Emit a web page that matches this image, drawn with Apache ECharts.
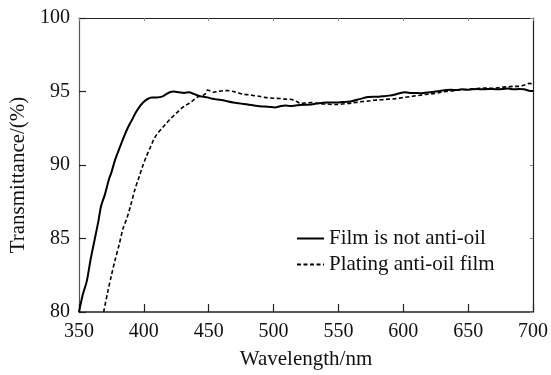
<!DOCTYPE html>
<html>
<head>
<meta charset="utf-8">
<script src="https://cdn.jsdelivr.net/npm/echarts@6/dist/echarts.min.js"></script>
<style>html,body{margin:0;padding:0;background:#fff}#c{width:551px;height:375px}</style>
</head>
<body>
<div id="c"></div>
<script>
var seriesNames = ['Film is not anti-oil', 'Plating anti-oil film'];
var xTicks = [350, 400, 450, 500, 550, 600, 650, 700];
var yTicks = [80, 85, 90, 95, 100];

var solidWavelength = [350,353,356,359,362,365,367,370,373,375,378,381,385,388,391,394,397,400,403,406,410,414,417,420,423,427,431,435,438,441,445,449,453,457,461,465,469,473,477,481,485,489,493,497,501,505,509,513,517,521,525,529,533,537,541,545,549,553,557,561,565,569,573,577,581,585,589,593,597,601,605,609,613,617,621,625,629,633,637,641,645,649,653,657,661,665,669,673,677,681,685,689,693,697,700];
var solidTransmittance = [80.0,81.2,82.1,83.6,84.9,86.2,87.2,88.0,89.0,89.5,90.4,91.1,92.0,92.6,93.1,93.6,94.0,94.3,94.5,94.6,94.6,94.65,94.8,94.95,95.0,94.95,94.9,94.95,94.85,94.75,94.65,94.6,94.5,94.45,94.4,94.32,94.25,94.2,94.15,94.1,94.05,94.0,93.98,93.95,93.92,94.0,94.05,94.02,94.05,94.08,94.1,94.12,94.18,94.22,94.25,94.25,94.25,94.28,94.3,94.35,94.45,94.55,94.63,94.65,94.65,94.68,94.72,94.78,94.88,94.95,94.9,94.9,94.88,94.92,94.95,95.0,95.05,95.1,95.12,95.1,95.15,95.12,95.15,95.17,95.15,95.17,95.17,95.15,95.17,95.2,95.15,95.17,95.15,95.05,95.03];

var dashedWavelength = [369,372,375,378,381,384,387,390,393,396,399,402,405,408,411,414,417,420,423,426,429,432,435,438,441,444,447,449,451,454,457,461,465,469,473,477,481,485,489,493,497,501,505,509,513,517,521,525,529,533,537,541,545,549,553,557,561,565,569,573,577,581,585,589,593,597,601,605,609,613,617,621,625,629,633,637,641,645,649,653,657,661,665,669,673,677,681,685,689,693,697,700];
var dashedTransmittance = [80.0,81.3,82.5,83.6,84.6,85.7,86.4,87.3,88.3,89.1,89.9,90.6,91.2,91.8,92.2,92.5,92.8,93.1,93.35,93.6,93.85,94.05,94.2,94.4,94.6,94.7,94.8,95.1,95.05,94.95,95.0,95.05,95.06,95.0,94.9,94.8,94.78,94.72,94.68,94.6,94.56,94.54,94.52,94.48,94.47,94.35,94.2,94.22,94.25,94.2,94.15,94.15,94.12,94.12,94.15,94.18,94.22,94.28,94.32,94.35,94.4,94.42,94.45,94.48,94.5,94.55,94.6,94.65,94.7,94.75,94.8,94.83,94.88,94.95,95.0,95.03,95.08,95.12,95.15,95.18,95.2,95.22,95.24,95.21,95.25,95.3,95.32,95.35,95.35,95.42,95.55,95.5];

function pairs(xs, ys) { return xs.map(function (x, i) { return [x, ys[i]]; }); }

var FONT = 'Liberation Serif';
var AX = '#222';
var chart = echarts.init(document.getElementById('c'));
chart.setOption({
  animation: false,
  backgroundColor: '#fff',
  grid: { left: 79, right: 15, top: 18, bottom: 58 },
  legend: {
    orient: 'vertical', left: 296, top: 228, padding: 0,
    itemWidth: 27, itemHeight: 14, itemGap: 5,
    itemStyle: { opacity: 0 },
    textStyle: { fontFamily: FONT, fontSize: 21, color: '#111' },
    data: seriesNames
  },
  xAxis: [{
    type: 'value', min: xTicks[0], max: xTicks[xTicks.length - 1], interval: 50,
    name: 'Wavelength/nm', nameLocation: 'middle', nameGap: 37,
    nameTextStyle: { fontFamily: FONT, fontSize: 21, color: '#111' },
    axisLine: { show: true, lineStyle: { color: AX, width: 1.5 } },
    axisTick: { show: true, inside: true, length: 8, lineStyle: { color: AX, width: 1.2 } },
    axisLabel: { fontFamily: FONT, fontSize: 20, color: '#111', margin: 10 },
    splitLine: { show: false }
  }, {
    type: 'value', position: 'top', min: xTicks[0], max: xTicks[xTicks.length - 1], interval: 50,
    axisLine: { show: true, lineStyle: { color: AX, width: 1.2 } },
    axisTick: { show: true, inside: true, length: 3, lineStyle: { color: '#888' } },
    axisLabel: { show: false }, splitLine: { show: false }
  }],
  yAxis: [{
    type: 'value', min: yTicks[0], max: yTicks[yTicks.length - 1], interval: 5,
    name: 'Transmittance/(%)', nameLocation: 'middle', nameGap: 46,
    nameTextStyle: { fontFamily: FONT, fontSize: 21, color: '#111', padding: [0, 20, 0, 0] },
    axisLine: { show: true, lineStyle: { color: '#555', width: 1.2 } },
    axisTick: { show: true, inside: true, length: 7, lineStyle: { color: AX, width: 1.2 } },
    axisLabel: { fontFamily: FONT, fontSize: 20, color: '#111', margin: 9 },
    splitLine: { show: false }
  }, {
    type: 'value', position: 'right', min: yTicks[0], max: yTicks[yTicks.length - 1], interval: 5,
    axisLine: { show: true, lineStyle: { color: AX, width: 1.2 } },
    axisTick: { show: true, inside: true, length: 3, lineStyle: { color: '#888' } },
    axisLabel: { show: false }, splitLine: { show: false }
  }],
  series: [{
    name: seriesNames[0], type: 'line', symbol: 'none', smooth: 0.3,
    lineStyle: { color: '#000', width: 2 }, itemStyle: { color: '#000' },
    data: pairs(solidWavelength, solidTransmittance)
  }, {
    name: seriesNames[1], type: 'line', symbol: 'none', smooth: 0.3,
    lineStyle: { color: '#000', width: 1.6, type: [4, 2.5] }, itemStyle: { color: '#000' },
    data: pairs(dashedWavelength, dashedTransmittance)
  }]
});
</script>
</body>
</html>
